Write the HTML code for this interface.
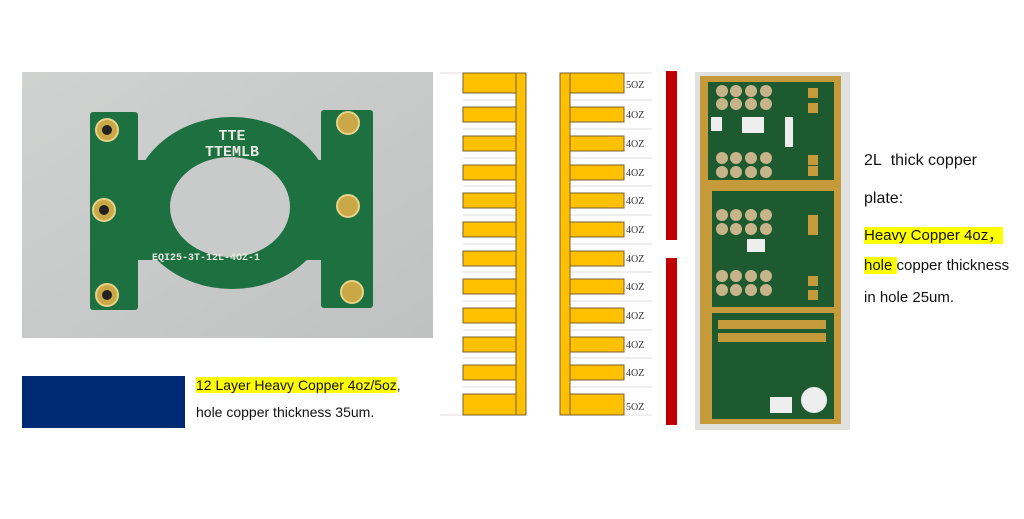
<!DOCTYPE html>
<html><head><meta charset="utf-8"><style>
html,body{margin:0;padding:0;background:#fff;width:1024px;height:519px;overflow:hidden}
.t{position:absolute;font-family:"Liberation Sans",sans-serif;color:#111;white-space:nowrap}
.hl{background:#ffff00}
</style></head><body>
<svg width="1024" height="519" style="position:absolute;left:0;top:0" xmlns="http://www.w3.org/2000/svg">
<defs>
<linearGradient id="bg1" x1="0" y1="0" x2="1" y2="1"><stop offset="0" stop-color="#d0d2d1"/><stop offset="1" stop-color="#bfc2c1"/></linearGradient>
</defs>
<rect x="22" y="72" width="411" height="266" fill="url(#bg1)"/>
<g fill="#1d7040">
<rect x="90" y="112" width="48" height="198" rx="3"/>
<rect x="321" y="110" width="52" height="198" rx="3"/>
<ellipse cx="232" cy="203" rx="100" ry="86"/>
<rect x="130" y="160" width="200" height="100"/>
</g>
<ellipse cx="230" cy="207" rx="60" ry="50" fill="#c9cbca"/>
<g fill="#c9a845" stroke="#e6d28a" stroke-width="2">
<circle cx="107" cy="130" r="11"/><circle cx="104" cy="210" r="11"/><circle cx="107" cy="295" r="11"/>
<circle cx="348" cy="123" r="11"/><circle cx="348" cy="206" r="11"/><circle cx="352" cy="292" r="11"/>
</g>
<g fill="#222"><circle cx="107" cy="130" r="5"/><circle cx="104" cy="210" r="5"/><circle cx="107" cy="295" r="5"/></g>
<g fill="#e8e8e0" font-family="Liberation Mono,monospace" font-weight="bold">
<text x="232" y="140" font-size="15" text-anchor="middle">TTE</text>
<text x="232" y="156" font-size="15" text-anchor="middle">TTEMLB</text>
<text x="152" y="260" font-size="10">EQI25-3T-12L-4OZ-1</text>
</g>
<rect x="22" y="376" width="163" height="52" fill="#002b74"/>
<g stroke="#dcdcdc" stroke-width="1">
<line x1="440" y1="73" x2="526" y2="73"/><line x1="440" y1="415" x2="526" y2="415"/>
<line x1="560" y1="73" x2="652" y2="73"/><line x1="560" y1="415" x2="652" y2="415"/>
</g>
<g stroke="#dcdcdc" stroke-width="1" id="gl">
<line x1="463" y1="100" x2="516" y2="100"/><line x1="570" y1="100" x2="652" y2="100"/>
<line x1="463" y1="129" x2="516" y2="129"/><line x1="570" y1="129" x2="652" y2="129"/>
<line x1="463" y1="158" x2="516" y2="158"/><line x1="570" y1="158" x2="652" y2="158"/>
<line x1="463" y1="186" x2="516" y2="186"/><line x1="570" y1="186" x2="652" y2="186"/>
<line x1="463" y1="215" x2="516" y2="215"/><line x1="570" y1="215" x2="652" y2="215"/>
<line x1="463" y1="244" x2="516" y2="244"/><line x1="570" y1="244" x2="652" y2="244"/>
<line x1="463" y1="272" x2="516" y2="272"/><line x1="570" y1="272" x2="652" y2="272"/>
<line x1="463" y1="301" x2="516" y2="301"/><line x1="570" y1="301" x2="652" y2="301"/>
<line x1="463" y1="330" x2="516" y2="330"/><line x1="570" y1="330" x2="652" y2="330"/>
<line x1="463" y1="358" x2="516" y2="358"/><line x1="570" y1="358" x2="652" y2="358"/>
<line x1="463" y1="387" x2="516" y2="387"/><line x1="570" y1="387" x2="652" y2="387"/>
</g>
<rect x="516" y="73" width="10" height="342" fill="#ffc000" stroke="#7a6030" stroke-width="1"/>
<rect x="560" y="73" width="10" height="342" fill="#ffc000" stroke="#7a6030" stroke-width="1"/>
<g fill="#ffc000" stroke="#7a6030" stroke-width="1">
<rect x="463" y="73" width="53" height="20"/><rect x="570" y="73" width="54" height="20"/>
<rect x="463" y="107" width="53" height="15"/><rect x="570" y="107" width="54" height="15"/>
<rect x="463" y="136" width="53" height="15"/><rect x="570" y="136" width="54" height="15"/>
<rect x="463" y="165" width="53" height="15"/><rect x="570" y="165" width="54" height="15"/>
<rect x="463" y="193" width="53" height="15"/><rect x="570" y="193" width="54" height="15"/>
<rect x="463" y="222" width="53" height="15"/><rect x="570" y="222" width="54" height="15"/>
<rect x="463" y="251" width="53" height="15"/><rect x="570" y="251" width="54" height="15"/>
<rect x="463" y="279" width="53" height="15"/><rect x="570" y="279" width="54" height="15"/>
<rect x="463" y="308" width="53" height="15"/><rect x="570" y="308" width="54" height="15"/>
<rect x="463" y="337" width="53" height="15"/><rect x="570" y="337" width="54" height="15"/>
<rect x="463" y="365" width="53" height="15"/><rect x="570" y="365" width="54" height="15"/>
<rect x="463" y="394" width="53" height="21"/><rect x="570" y="394" width="54" height="21"/>
</g>
<g font-family="Liberation Serif,serif" font-size="10" fill="#333">
<text x="626" y="88">5OZ</text><text x="626" y="118">4OZ</text><text x="626" y="147">4OZ</text>
<text x="626" y="176">4OZ</text><text x="626" y="204">4OZ</text><text x="626" y="233">4OZ</text>
<text x="626" y="262">4OZ</text><text x="626" y="290">4OZ</text><text x="626" y="319">4OZ</text>
<text x="626" y="348">4OZ</text><text x="626" y="376">4OZ</text><text x="626" y="410">5OZ</text>
</g>
<rect x="666" y="71" width="11" height="169" fill="#c00000"/>
<rect x="666" y="258" width="11" height="167" fill="#c00000"/>
<rect x="695" y="72" width="155" height="358" fill="#e0e1df"/>
<rect x="700" y="76" width="141" height="348" fill="#c49a3a"/>
<rect x="708" y="82" width="126" height="98" fill="#1e5a30"/>
<rect x="712" y="191" width="122" height="116" fill="#1e5a30"/>
<rect x="712" y="313" width="122" height="106" fill="#1e5a30"/>
<g fill="#c8b48a">
<circle cx="722" cy="91" r="6"/><circle cx="736" cy="91" r="6"/><circle cx="751" cy="91" r="6"/><circle cx="766" cy="91" r="6"/>
<circle cx="722" cy="104" r="6"/><circle cx="736" cy="104" r="6"/><circle cx="751" cy="104" r="6"/><circle cx="766" cy="104" r="6"/>
<circle cx="722" cy="158" r="6"/><circle cx="736" cy="158" r="6"/><circle cx="751" cy="158" r="6"/><circle cx="766" cy="158" r="6"/>
<circle cx="722" cy="172" r="6"/><circle cx="736" cy="172" r="6"/><circle cx="751" cy="172" r="6"/><circle cx="766" cy="172" r="6"/>
<circle cx="722" cy="215" r="6"/><circle cx="736" cy="215" r="6"/><circle cx="751" cy="215" r="6"/><circle cx="766" cy="215" r="6"/>
<circle cx="722" cy="229" r="6"/><circle cx="736" cy="229" r="6"/><circle cx="751" cy="229" r="6"/><circle cx="766" cy="229" r="6"/>
<circle cx="722" cy="276" r="6"/><circle cx="736" cy="276" r="6"/><circle cx="751" cy="276" r="6"/><circle cx="766" cy="276" r="6"/>
<circle cx="722" cy="290" r="6"/><circle cx="736" cy="290" r="6"/><circle cx="751" cy="290" r="6"/><circle cx="766" cy="290" r="6"/>
</g>
<g fill="#eee"><rect x="711" y="117" width="11" height="14"/><rect x="742" y="117" width="22" height="16"/><rect x="785" y="117" width="8" height="30"/><rect x="747" y="239" width="18" height="13"/><rect x="770" y="397" width="22" height="16"/></g>
<circle cx="814" cy="400" r="13" fill="#eee"/>
<g fill="#c49a3a">
<rect x="718" y="320" width="108" height="9"/><rect x="718" y="333" width="108" height="9"/>
<rect x="808" y="88" width="10" height="10"/><rect x="808" y="103" width="10" height="10"/><rect x="808" y="155" width="10" height="10"/><rect x="808" y="166" width="10" height="10"/>
<rect x="808" y="215" width="10" height="10"/><rect x="808" y="225" width="10" height="10"/><rect x="808" y="276" width="10" height="10"/><rect x="808" y="290" width="10" height="10"/>
</g>
</svg>
<div class="t" style="left:196px;top:377px;font-size:14px"><span class="hl">12 Layer Heavy Copper 4oz/5oz</span>,</div>
<div class="t" style="left:196px;top:404px;font-size:14px">hole copper thickness 35um.</div>
<div class="t" style="left:864px;top:152px;font-size:16px">2L&nbsp; thick copper</div>
<div class="t" style="left:864px;top:190px;font-size:16px">plate:</div>
<div class="t" style="left:864px;top:224px;font-size:15px"><span class="hl">Heavy Copper 4oz，</span></div>
<div class="t" style="left:864px;top:257px;font-size:15px"><span class="hl">hole </span>copper thickness</div>
<div class="t" style="left:864px;top:289px;font-size:15px">in hole 25um.</div>
</body></html>
